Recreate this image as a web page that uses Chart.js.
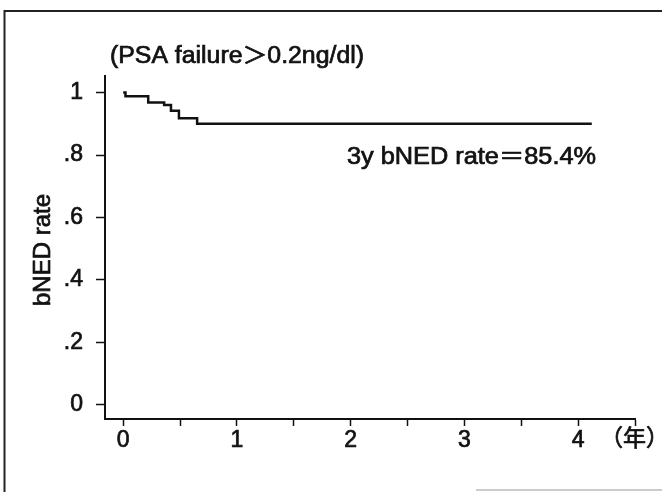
<!DOCTYPE html>
<html>
<head>
<meta charset="utf-8">
<script src="https://cdn.jsdelivr.net/npm/chart.js@4"></script>
<style>
html,body{margin:0;padding:0;background:#fff;}
#wrap{position:relative;width:662px;height:492px;}
</style>
</head>
<body>
<div id="wrap"><canvas id="c" width="662" height="492"></canvas></div>
<script>
// ---- data ----
const timeYears = [0, 0.02, 0.22, 0.36, 0.42, 0.49, 0.65, 4.12];
const bnedRate  = [1, 0.988, 0.968, 0.96, 0.942, 0.918, 0.90, 0.90];
const yTickValues = [0, 0.2, 0.4, 0.6, 0.8, 1];
const yTickLabels = ['0', '.2', '.4', '.6', '.8', '1'];
const xTickValues = [0, 0.5, 1, 1.5, 2, 2.5, 3, 3.5, 4, 4.5];
const xTickLabels = ['0', '', '1', '', '2', '', '3', '', '4', ''];
const yAxisTitle = 'bNED rate';
const xAxisUnit = '（年）';
const noteTitle = '(PSA failure＞0.2ng/dl)';
const noteRate = '3y bNED rate＝85.4%';

const FONT = '"Liberation Sans", Arial, "Noto Sans CJK JP", sans-serif';
const INK = '#111';

function fitText(ctx, text, x, y, width) {
  const w = ctx.measureText(text).width;
  ctx.save();
  ctx.translate(x, y);
  ctx.scale(width / w, 1);
  ctx.strokeText(text, 0, 0);
  ctx.fillText(text, 0, 0);
  ctx.restore();
}

const textPlugin = {
  id: 'texts',
  beforeDraw(chart) {
    const ctx = chart.ctx;
    ctx.save();
    ctx.fillStyle = '#fff';
    ctx.fillRect(0, 0, chart.width, chart.height);
    // scanned frame
    ctx.strokeStyle = '#222';
    ctx.lineWidth = 2;
    ctx.beginPath();
    ctx.moveTo(4.5, 492); ctx.lineTo(4.5, 11); ctx.lineTo(662, 11);
    ctx.stroke();
    ctx.strokeStyle = '#bbb';
    ctx.lineWidth = 1.5;
    ctx.beginPath();
    ctx.moveTo(476, 490); ctx.lineTo(662, 490);
    ctx.stroke();
    ctx.restore();
  },
  afterDraw(chart) {
    const ctx = chart.ctx;
    ctx.save();
    ctx.fillStyle = INK;
    ctx.strokeStyle = INK;
    ctx.lineWidth = 0.7;
    ctx.font = '23px ' + FONT;
    ctx.textBaseline = 'middle';
    ctx.textAlign = 'left';
    fitText(ctx, noteTitle, 110, 57, 254);
    fitText(ctx, noteRate, 347, 158, 249);
    ctx.strokeText(xAxisUnit, 600, 440);
    ctx.fillText(xAxisUnit, 600, 440);
    ctx.translate(43, 250);
    ctx.rotate(-Math.PI / 2);
    ctx.textAlign = 'center';
    ctx.font = '24px ' + FONT;
    ctx.strokeText(yAxisTitle, 0, 0);
    ctx.fillText(yAxisTitle, 0, 0);
    ctx.restore();
  }
};

new Chart(document.getElementById('c'), {
  type: 'line',
  data: {
    datasets: [{
      data: timeYears.map((t, i) => ({x: t, y: bnedRate[i]})),
      stepped: 'before',
      borderColor: INK,
      borderWidth: 2.5,
      pointRadius: 0,
      fill: false
    }]
  },
  options: {
    responsive: false,
    animation: false,
    devicePixelRatio: 1,
    layout: {padding: {left: 0, right: 27, top: 76, bottom: 0}},
    plugins: {legend: {display: false}, tooltip: {enabled: false}},
    scales: {
      x: {
        type: 'linear',
        min: -0.16, max: 4.5,
        afterBuildTicks(s) { s.ticks = xTickValues.map(v => ({value: v})); },
        afterFit(s) { s.height = 73; },
        ticks: {
          autoSkip: false, maxRotation: 0, padding: 1,
          color: INK, textStrokeColor: INK, textStrokeWidth: 0.7,
          font: {family: FONT, size: 23},
          callback(v) { const i = xTickValues.indexOf(v); return i >= 0 ? xTickLabels[i] : ''; }
        },
        grid: {drawOnChartArea: false, drawTicks: true, tickLength: 7, tickWidth: 1.5, tickColor: INK},
        border: {display: true, color: INK, width: 2}
      },
      y: {
        type: 'linear',
        min: -0.045, max: 1.053,
        afterBuildTicks(s) { s.ticks = yTickValues.map(v => ({value: v})); },
        afterFit(s) { s.width = 105; },
        ticks: {
          autoSkip: false, padding: 13,
          color: INK, textStrokeColor: INK, textStrokeWidth: 0.7,
          font: {family: FONT, size: 23},
          callback(v) { const i = yTickValues.indexOf(v); return i >= 0 ? yTickLabels[i] : ''; }
        },
        grid: {drawOnChartArea: false, drawTicks: true, tickLength: 9, tickWidth: 1.5, tickColor: INK},
        border: {display: true, color: INK, width: 2}
      }
    }
  },
  plugins: [textPlugin]
});
</script>
</body>
</html>
